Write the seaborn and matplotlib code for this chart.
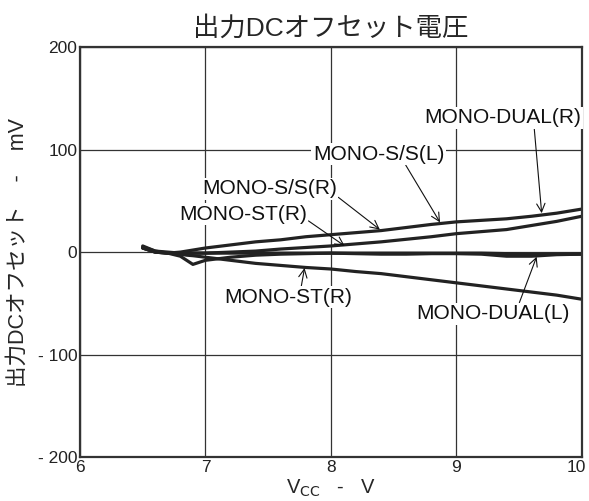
import pandas as pd
import matplotlib
matplotlib.use("Agg")
import matplotlib.pyplot as plt
import matplotlib.transforms as mtransforms
import seaborn as sns

# 曲線データ (Vcc [V], オフセット [mV])
vcc = [6.5, 6.6, 6.7, 6.8, 6.85, 6.9, 7.0, 7.2, 7.4, 7.6, 7.8, 8.0, 8.2, 8.4,
       8.6, 8.8, 9.0, 9.2, 9.4, 9.6, 9.8, 10.0]
top_line = [6, 1, -1, 0, 1, 2, 4, 7, 10, 12, 15, 17, 19, 21,
            24, 27, 29.5, 31, 32.5, 35, 38, 42]
rise_line = [5, 1, 0, -1, -1, -1, -1, 0, 1, 3, 4.5, 6, 8, 10,
             12.5, 15, 18, 20, 22, 26, 30, 35]
flat_line = [4, 0, -1, -1, -1, -1, -1, -1, -1, -1, -1, -1, -1, -1,
             -1, -1, -1, -1, -1.5, -2, -2, -2]
dip_line = [4, 0, -1, -4, -8, -12, -8, -5, -3, -2, -1.5, -1, -1.5, -2,
            -2, -1.5, -1.5, -2, -4, -4, -2.5, -2]
fall_line = [4, 0, -1, -2, -3, -3.5, -5, -8, -11, -13, -15, -16.5, -19, -21,
             -24, -27, -30, -33, -36, -39, -42, -46]

series = {"A": top_line, "B": rise_line, "C": flat_line, "D": dip_line, "E": fall_line}

# ラベル: (テキスト, ラベル中心, 矢印先, 矢印の起点 relpos)
notes = [
    ("MONO-DUAL(R)", (9.37, 131), (9.68, 38), (0.7, 0)),
    ("MONO-S/S(L)", (8.38, 95.6), (8.87, 29), (0.7, 0)),
    ("MONO-S/S(R)", (7.51, 62), (8.39, 22), (1.0, 0.1)),
    ("MONO-ST(R)", (7.30, 37), (8.11, 6), (1.0, 0.2)),
    ("MONO-ST(R)", (7.66, -44), (7.79, -15.5), (0.6, 1.0)),
    ("MONO-DUAL(L)", (9.29, -60), (9.64, -4.5), (0.67, 1.0)),
]

xticks = [6, 7, 8, 9, 10]
yticks = [-200, -100, 0, 100, 200]
ytick_labels = ["- 200", "- 100", "0", "100", "200"]

df = pd.concat(
    [pd.DataFrame({"vcc": vcc, "mv": v, "curve": k}) for k, v in series.items()],
    ignore_index=True,
)

sns.set_style("white")
plt.rcParams['font.family'] = ['Liberation Sans', 'Noto Sans CJK JP']

fig = plt.figure(figsize=(5.89, 5.01), dpi=100)
ax = fig.add_axes([0.1358, 0.0878, 0.852, 0.818])

sns.lineplot(data=df, x="vcc", y="mv", units="curve", estimator=None,
             color="#222222", linewidth=2.3, ax=ax, sort=False)

ax.set_xlim(6, 10)
ax.set_ylim(-200, 200)
ax.set_xticks(xticks)
ax.set_yticks(yticks)
ax.set_yticklabels(ytick_labels)
ax.tick_params(length=0, labelsize=12.5, colors="#222222", pad=2)
ax.grid(True, color="#333333", linewidth=0.9)
for sp in ax.spines.values():
    sp.set_color("#333333")
    sp.set_linewidth(1.6)

# 右端の "10" を画像内に収める
last = ax.get_xticklabels()[-1]
last.set_transform(last.get_transform() +
                   mtransforms.ScaledTranslation(-6 / 100, 0, fig.dpi_scale_trans))

for text, xy_text, xy_tip, rp in notes:
    ax.annotate(text, xy=xy_tip, xytext=xy_text, ha="center", va="center",
                fontsize=15, color="#111111",
                bbox=dict(facecolor="white", edgecolor="none", pad=1),
                arrowprops=dict(arrowstyle="->", color="#111111", lw=0.8,
                                relpos=rp, shrinkA=0, shrinkB=0))

ax.set_title("出力DCオフセット電圧", fontsize=19, pad=8)
ax.set_xlabel(r"V$_{\mathrm{CC}}$   -   V", fontsize=14.5, labelpad=2)
ax.set_ylabel("出力DCオフセット    -    mV", fontsize=15.5, labelpad=6)

fig.savefig("out.png", dpi=100)
